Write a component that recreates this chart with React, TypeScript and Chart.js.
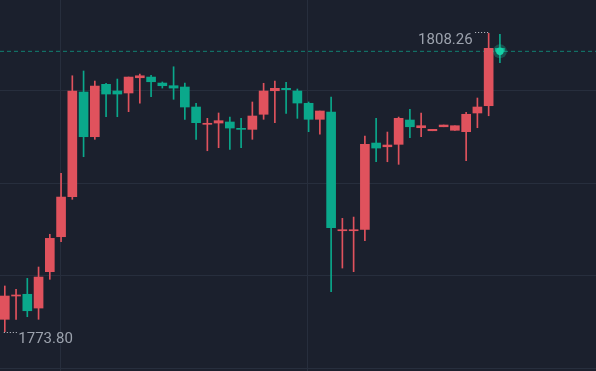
import React, { useEffect, useRef } from "react";
import { Chart, registerables } from "chart.js";

Chart.register(...registerables);

// OHLC values for each candle (index order, left to right)
const OPEN = [
  1775.23, 1777.92, 1778.12, 1776.53, 1780.73, 1784.77, 1789.39, 1801.48, 1796.32, 1802.37,
  1801.6, 1801.37, 1803.13, 1803.21, 1802.52, 1802.21, 1802.06, 1799.75, 1797.75, 1797.9,
  1798.02, 1797.29, 1797.17, 1798.91, 1801.63, 1801.91, 1801.6, 1800.18, 1798.33, 1799.17,
  1785.46, 1785.46, 1785.62, 1795.59, 1795.16, 1795.44, 1798.25, 1797.36, 1797.01, 1797.47,
  1797.06, 1796.9, 1799.06, 1799.9, 1806.53,
];
const HIGH = [
  1779.08, 1778.69, 1779.96, 1781.27, 1785.05, 1792.09, 1803.36, 1803.91, 1802.75, 1802.49,
  1802.98, 1803.21, 1803.56, 1803.41, 1802.64, 1804.4, 1802.52, 1800.18, 1798.44, 1799.06,
  1798.59, 1798.44, 1800.33, 1802.49, 1802.75, 1802.6, 1801.83, 1800.33, 1799.29, 1800.9,
  1786.89, 1787.04, 1796.4, 1798.44, 1796.86, 1798.59, 1799.48, 1799.06, 1797.17, 1797.67,
  1797.59, 1799.14, 1800.79, 1808.26, 1808.14,
];
const LOW = [
  1773.8, 1775.23, 1775.53, 1775.23, 1779.85, 1784.19, 1789.09, 1794.01, 1796.02, 1798.63,
  1798.63, 1799.21, 1800.18, 1800.94, 1801.94, 1800.64, 1798.33, 1796.02, 1794.7, 1795.05,
  1794.86, 1795.05, 1796.02, 1798.33, 1797.94, 1799.02, 1798.44, 1796.9, 1796.6, 1778.42,
  1781.15, 1780.73, 1784.31, 1793.43, 1793.43, 1793.13, 1796.2, 1796.32, 1797.01, 1797.47,
  1797.06, 1793.55, 1797.36, 1798.74, 1804.86,
];
const CLOSE = [
  1777.92, 1778.04, 1776.22, 1780.11, 1784.58, 1789.35, 1801.6, 1796.32, 1802.17, 1801.25,
  1801.25, 1803.21, 1803.36, 1802.67, 1802.21, 1801.94, 1799.75, 1797.94, 1797.87, 1798.17,
  1797.32, 1797.17, 1798.71, 1801.6, 1801.91, 1801.75, 1800.21, 1798.33, 1799.29, 1785.81,
  1785.58, 1785.58, 1795.44, 1795.01, 1795.36, 1798.44, 1797.47, 1797.59, 1797.17, 1797.67,
  1797.59, 1798.91, 1799.75, 1806.53, 1806.18,
];

const CURRENT_PRICE = 1806.18;

// axis ranges and grid positions
const PRICE_MIN = 1769.26;
const PRICE_MAX = 1812.11;
const X_MIN = -0.427;
const X_MAX = 52.54;
const H_GRID = [1769.6, 1780.25, 1790.95, 1801.65];
const V_GRID = [4.93, 26.92];

const BG = "#1b202d";
const GRID = "#272e3d";
const RED = "#e0525d";
const GREEN = "#0aa88b";
const DASH = "rgba(14,165,138,0.72)";
const TEXT = "#9ca2ad";
const LEADER = "#c9ccd3";

export default function App() {
  const ref = useRef<HTMLCanvasElement>(null);

  useEffect(() => {
    if (!ref.current) return;
    const idx = OPEN.map((_, i) => i);
    const colors = idx.map((i) => (CLOSE[i] >= OPEN[i] ? RED : GREEN));
    const hiVal = Math.max(...HIGH);
    const loVal = Math.min(...LOW);
    const hiIdx = HIGH.indexOf(hiVal);
    const loIdx = LOW.indexOf(loVal);
    const lastIdx = idx.length - 1;

    const extremes = {
      id: "extremes",
      afterDatasetsDraw(chart: any) {
        const { ctx, scales } = chart;
        const x = scales.x;
        const y = scales.y;
        ctx.save();
        ctx.font = '15px "Roboto", "Liberation Sans", sans-serif';
        ctx.fillStyle = TEXT;
        ctx.strokeStyle = LEADER;
        ctx.lineWidth = 1;
        ctx.setLineDash([1, 2]);

        const hx = x.getPixelForValue(hiIdx);
        const hy = y.getPixelForValue(hiVal);
        ctx.beginPath();
        ctx.moveTo(hx - 13.5, Math.round(hy) - 0.5);
        ctx.lineTo(hx, Math.round(hy) - 0.5);
        ctx.stroke();
        ctx.textAlign = "right";
        ctx.textBaseline = "alphabetic";
        ctx.fillText(hiVal.toFixed(2), hx - 16, hy + 10.5);

        const lx = x.getPixelForValue(loIdx);
        const ly = y.getPixelForValue(loVal);
        ctx.beginPath();
        ctx.moveTo(lx - 1, Math.round(ly) + 0.5);
        ctx.lineTo(lx + 12, Math.round(ly) + 0.5);
        ctx.stroke();
        ctx.textAlign = "left";
        ctx.fillText(loVal.toFixed(2), lx + 13.5, ly + 11.5);
        ctx.restore();
      },
    };

    const chart = new Chart(ref.current, {
      type: "bar",
      data: {
        datasets: [
          {
            type: "line",
            data: [{ x: lastIdx, y: CURRENT_PRICE }],
            showLine: false,
            pointStyle: "circle",
            pointRadius: 3.8,
            pointBackgroundColor: "#16d2a8",
            pointBorderWidth: 0,
            order: 0,
          } as any,
          {
            type: "line",
            data: [{ x: lastIdx, y: CURRENT_PRICE }],
            showLine: false,
            pointStyle: "circle",
            pointRadius: 7,
            pointBackgroundColor: "rgba(22,210,168,0.28)",
            pointBorderWidth: 0,
            order: 1,
          } as any,
          {
            type: "bar",
            data: idx.map((i) => ({ x: i, y: [OPEN[i], CLOSE[i]] })),
            backgroundColor: colors,
            borderWidth: 0,
            barThickness: 9,
            grouped: false,
            minBarLength: 1,
            order: 2,
          } as any,
          {
            type: "bar",
            data: idx.map((i) => ({ x: i, y: [LOW[i], HIGH[i]] })),
            backgroundColor: colors,
            borderWidth: 0,
            barThickness: 1,
            grouped: false,
            order: 3,
          } as any,
          {
            type: "line",
            data: [
              { x: X_MIN, y: CURRENT_PRICE },
              { x: X_MAX, y: CURRENT_PRICE },
            ],
            borderColor: DASH,
            borderWidth: 1,
            borderDash: [4, 3],
            pointRadius: 0,
            order: 4,
          } as any,
        ],
      },
      options: {
        animation: false,
        responsive: false,
        events: [],
        layout: { padding: 0, autoPadding: false },
        plugins: { legend: { display: false }, tooltip: { enabled: false } },
        scales: {
          x: {
            type: "linear",
            min: X_MIN,
            max: X_MAX,
            offset: false,
            ticks: { display: false },
            grid: { color: GRID, drawTicks: false, lineWidth: 1, offset: false },
            border: { display: false },
            afterBuildTicks: (s: any) => {
              s.ticks = V_GRID.map((v) => ({ value: v }));
            },
          },
          y: {
            type: "linear",
            min: PRICE_MIN,
            max: PRICE_MAX,
            offset: false,
            ticks: { display: false },
            grid: { color: GRID, drawTicks: false, lineWidth: 1 },
            border: { display: false },
            afterBuildTicks: (s: any) => {
              s.ticks = H_GRID.map((v) => ({ value: v }));
            },
          },
        },
      } as any,
      plugins: [extremes],
    });
    return () => chart.destroy();
  }, []);

  return (
    <div
      style={{
        position: "fixed",
        left: 0,
        top: 0,
        width: 596,
        height: 371,
        background: BG,
      }}
    >
      <canvas ref={ref} width={596} height={371} style={{ display: "block" }} />
    </div>
  );
}
